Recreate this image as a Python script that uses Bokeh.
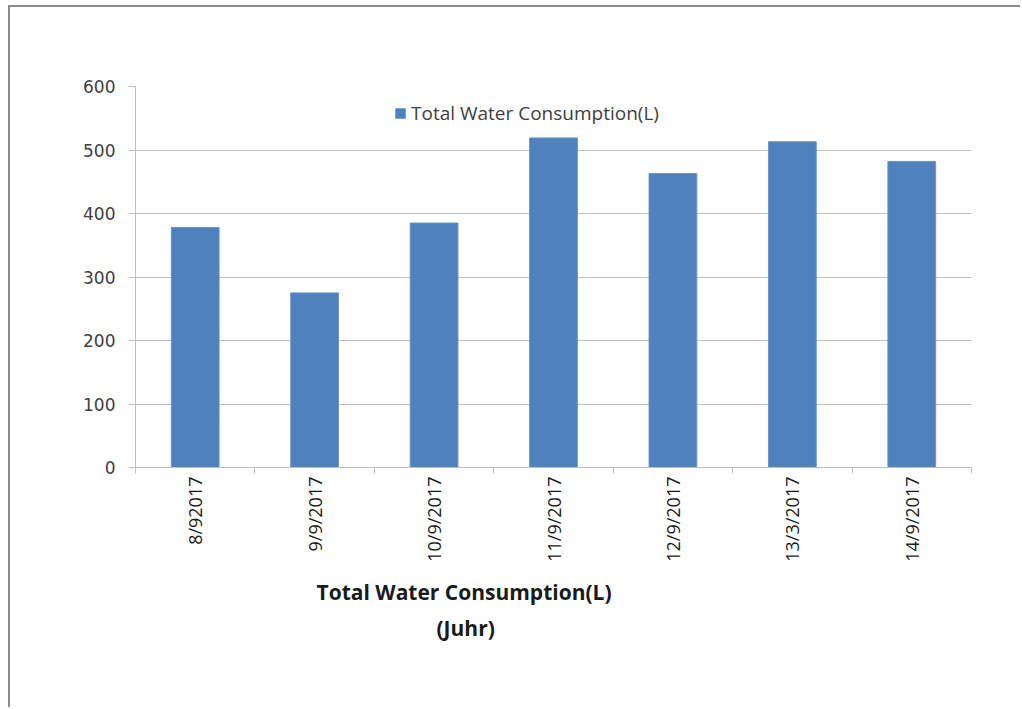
import math

from bokeh.plotting import figure
from bokeh.models import (ColumnDataSource, FactorRange, Range1d, LinearAxis,
                          FixedTicker, Legend, LegendItem, Title)
from bokeh.embed import file_html
from bokeh.resources import INLINE

# Daily readings
dates = ["8/92017", "9/9/2017", "10/9/2017", "11/9/2017",
         "12/9/2017", "13/3/2017", "14/9/2017"]
consumption = [378, 275, 385, 519, 463, 513, 482]
y_ticks = [0, 100, 200, 300, 400, 500, 600]
series_name = "Total Water Consumption(L)"
x_title = "Total Water Consumption(L)"
x_subtitle = "(Juhr)"

BAR = "#4f81bd"
GRID = "#c0c0c0"
TEXT = "#404040"

src = ColumnDataSource(dict(date=dates, value=consumption))

p = figure(
    x_range=FactorRange(*dates),
    y_range=Range1d(y_ticks[0], y_ticks[-1]),
    width=1012, height=702,
    min_border_left=125, min_border_right=51,
    min_border_top=79, min_border_bottom=242,
    x_axis_location=None,
    output_backend="svg", toolbar_location=None,
)
p.margin = (5, 0, 0, 8)
p.styles = {"border-left": "2px solid #8c8c8c", "border-top": "2px solid #8c8c8c"}
p.outline_line_color = None
p.background_fill_color = "white"
p.border_fill_color = "white"

bars = p.vbar(x="date", top="value", width=0.4, source=src,
              fill_color=BAR, line_color="#6a94c6", line_width=1)

# value axis
p.yaxis.ticker = FixedTicker(ticks=y_ticks)
p.yaxis.axis_line_color = GRID
p.yaxis.major_tick_line_color = GRID
p.yaxis.major_tick_out = 7
p.yaxis.major_tick_in = 0
p.yaxis.minor_tick_line_color = None
p.yaxis.major_label_standoff = 13
p.yaxis.major_label_text_font = "DejaVu Sans"
p.yaxis.major_label_text_font_size = "17px"
p.yaxis.major_label_text_color = TEXT
p.ygrid.grid_line_color = GRID
p.ygrid.ticker = FixedTicker(ticks=y_ticks)
p.xgrid.grid_line_color = None

# category axis on the factor range's synthetic coordinates:
# labels at the category centres, tick marks on the boundaries
centres = [i + 0.5 for i in range(len(dates))]
bounds = list(range(len(dates) + 1))
x_axis = LinearAxis(
    ticker=FixedTicker(ticks=centres, minor_ticks=bounds),
    major_label_overrides=dict(zip(centres, dates)),
    axis_line_color=GRID,
    major_tick_line_color=None, major_tick_out=0, major_tick_in=0,
    minor_tick_line_color=GRID, minor_tick_out=6, minor_tick_in=0,
    major_label_orientation=math.pi / 2, major_label_standoff=3,
    major_label_text_font="Open Sans", major_label_text_font_size="18px",
    major_label_text_color="#1a1a1a",
)
p.add_layout(x_axis, "below")

legend = Legend(
    items=[LegendItem(label=series_name, renderers=[bars])],
    location=(259, 341), orientation="horizontal",
    border_line_color=None, background_fill_alpha=0,
    padding=0, margin=0, spacing=0,
    glyph_width=12, glyph_height=12, label_standoff=5,
    label_text_font="Open Sans", label_text_font_size="19px",
    label_text_color=TEXT,
)
p.add_layout(legend)

# two-line axis title under the category labels
for txt, shift, gap in [(x_title, 181, 22), (x_subtitle, 301, -10)]:
    p.add_layout(Title(text=txt, align="left", offset=shift, standoff=gap,
                       text_font="Open Sans", text_font_style="bold",
                       text_font_size="21px", text_color="#1a1a1a"), "below")

open("out.html", "w").write(file_html(p, INLINE))
